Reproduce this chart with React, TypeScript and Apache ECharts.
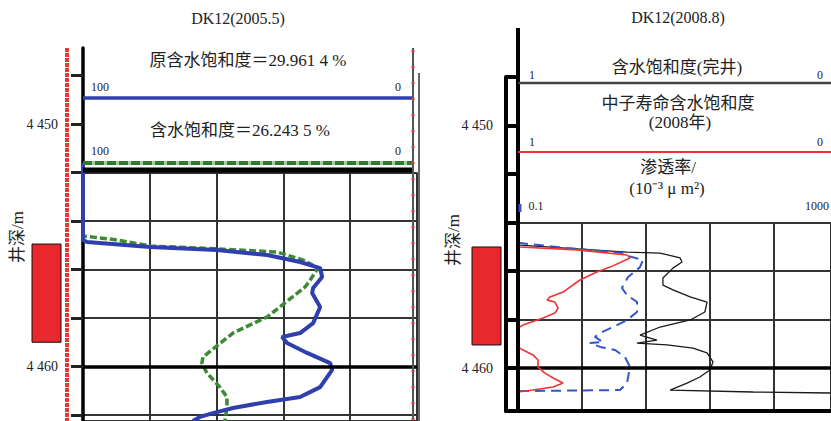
import React, { useEffect, useRef } from 'react';
import * as echarts from 'echarts';

// ---------- data ----------
const leftTitle = 'DK12(2005.5)';
const rightTitle = 'DK12(2008.8)';
const depthTicks = [4448, 4450, 4452, 4454, 4456, 4458, 4460, 4462];
const depthLabels = [4450, 4460];
const perfTop = 4454.95;
const perfBottom = 4459.0;

// left panel: water saturation (%), 100 at left, 0 at right
const leftBlueDepth = [4451.61, 4454.78, 4454.87, 4455.07, 4455.2, 4455.4, 4455.69, 4455.94, 4456.31, 4456.76, 4456.97, 4457.55, 4458.21, 4458.62, 4458.78, 4459.03, 4459.44, 4459.86, 4460.14, 4460.85, 4461.26, 4461.46, 4461.71, 4461.92, 4462.08, 4462.25];
const leftBlueSw = [100, 100, 98.8, 79.9, 59.9, 44.9, 35.0, 29.0, 28.4, 31.1, 31.4, 29.0, 31.1, 35.0, 40.4, 38.9, 32.9, 26.0, 25.4, 29.0, 35.0, 44.9, 55.1, 61.1, 65.0, 67.1];
const leftGreenDepth = [4451.61, 4454.62, 4454.78, 4455.03, 4455.15, 4455.28, 4455.61, 4455.94, 4456.43, 4456.72, 4457.96, 4458.62, 4459.61, 4459.86, 4460.27, 4460.85, 4461.26, 4461.67, 4462.25];
const leftGreenSw = [100, 100, 89.8, 79.9, 59.9, 41.9, 34.1, 29.6, 32.0, 33.5, 44.9, 55.1, 64.1, 64.4, 62.9, 59.0, 56.9, 56.9, 57.5];

// right panel: neutron-lifetime saturation (fraction), 1 at left
const redDepth = [4453.98, 4454.93, 4455.01, 4455.13, 4455.34, 4455.46, 4455.84, 4456.04, 4456.37, 4456.87, 4457.07, 4457.2, 4457.28, 4457.53, 4457.73, 4457.94, 4458.23, 4458.35, 4459.13, 4459.26, 4459.46, 4459.67, 4459.96, 4460.21, 4460.41, 4460.62, 4460.78, 4460.91, 4460.99, 4461.77];
const redSw = [1.0, 1.0, 0.994, 0.812, 0.652, 0.642, 0.706, 0.748, 0.802, 0.856, 0.898, 0.907, 0.882, 0.872, 0.882, 0.92, 0.984, 1.0, 1.0, 0.984, 0.952, 0.936, 0.936, 0.914, 0.888, 0.856, 0.888, 0.952, 1.0, 1.0];
// completion saturation (fraction), 1 at left
const blackDepth = [4454.85, 4454.93, 4455.22, 4455.26, 4455.46, 4455.63, 4455.88, 4456.29, 4456.58, 4456.78, 4457.07, 4457.28, 4457.69, 4458.02, 4458.31, 4458.64, 4458.85, 4458.97, 4459.05, 4459.18, 4459.38, 4459.75, 4460.08, 4460.37, 4460.62, 4460.91, 4460.99, 4461.03];
const blackSw = [1.0, 0.994, 0.652, 0.546, 0.482, 0.476, 0.505, 0.537, 0.537, 0.505, 0.45, 0.396, 0.403, 0.45, 0.546, 0.61, 0.556, 0.62, 0.524, 0.441, 0.396, 0.377, 0.387, 0.419, 0.46, 0.514, 0.249, 0.0];
// permeability (10^-3 um^2), log 0.1..1000
const permDepth = [4454.85, 4454.85, 4455.05, 4455.26, 4455.38, 4455.55, 4455.84, 4456.25, 4456.7, 4456.99, 4457.28, 4457.69, 4458.02, 4458.31, 4458.56, 4458.72, 4458.93, 4458.97, 4459.13, 4459.26, 4459.55, 4459.96, 4460.62, 4460.91, 4460.95];
const permK = [0.1, 0.106, 0.42, 2.2, 2.55, 3.96, 3.62, 2.55, 2.13, 2.47, 3.32, 3.32, 2.47, 1.64, 1.12, 0.96, 1.22, 0.83, 1.12, 1.74, 2.33, 2.7, 2.47, 2.01, 0.1];

const zip = (a: number[], b: number[]) => a.map((v, i) => [v, b[i]]);
const fmtDepth = (v: number) => String(v).replace(/^(\d)(\d{3})$/, '$1 $2');

const FONT = 'Liberation Serif, Noto Sans CJK SC, serif';

function txt(x: number, y: number, text: string, size: number, align = 'center', extra: any = {}) {
  return {
    type: 'text', x, y, ...extra,
    style: { text, fill: '#222', fontSize: size, fontFamily: FONT, align, textAlign: align, verticalAlign: 'middle', textVerticalAlign: 'middle' },
  };
}
function ln(x1: number, y1: number, x2: number, y2: number, stroke: string, lineWidth: number, lineDash?: number[], z = 10) {
  return { type: 'line', z, shape: { x1, y1, x2, y2 }, style: { stroke, lineWidth, lineDash } };
}

export default function App() {
  const ref = useRef<HTMLDivElement>(null);
  useEffect(() => {
    const chart = echarts.init(ref.current!, null, { renderer: 'svg' });
    const hidden = { show: false };
    const rectItem = (params: any, api: any) => {
      const p0 = api.coord([0, api.value(1)]);
      const p1 = api.coord([1, api.value(2)]);
      return { type: 'rect', shape: { x: p0[0], y: p0[1], width: p1[0] - p0[0], height: p1[1] - p0[1] }, style: { fill: '#e8282c', stroke: '#111', lineWidth: 1 } };
    };
    const grid = [
      { left: 83, top: 48, width: 334, height: 373 },      // 0 left curves / depth axis
      { left: 83, top: 172.5, width: 334, height: 248.5 }, // 1 left track grid
      { left: 32, top: 48, width: 29, height: 373 },       // 2 left perf
      { left: 506, top: 77, width: 12, height: 334 },      // 3 right ladder
      { left: 518, top: 222.5, width: 313, height: 188.5 },// 4 right track grid
      { left: 518, top: 77, width: 313, height: 334 },     // 5 right saturation
      { left: 518, top: 77, width: 313, height: 334 },     // 6 right permeability
      { left: 472, top: 77, width: 29, height: 334 },      // 7 right perf
    ];
    const gridLine = { show: true, lineStyle: { color: '#333', width: 2 } };
    const xAxis: any[] = [
      { gridIndex: 0, type: 'value', min: 0, max: 100, inverse: true, ...hidden },
      { gridIndex: 1, type: 'value', min: 0, max: 100, interval: 20, inverse: true, axisLine: hidden, axisTick: hidden, axisLabel: hidden, splitLine: gridLine },
      { gridIndex: 2, type: 'value', min: 0, max: 1, ...hidden },
      { gridIndex: 3, type: 'value', min: 0, max: 1, axisLine: { show: true, onZero: false, lineStyle: { color: '#000', width: 4 } }, axisTick: hidden, axisLabel: hidden, splitLine: hidden },
      { gridIndex: 4, type: 'value', min: 0, max: 4.89, interval: 1, axisLine: { show: true, onZero: false, lineStyle: { color: '#000', width: 4 } }, axisTick: hidden, axisLabel: hidden, splitLine: gridLine },
      { gridIndex: 5, type: 'value', min: 0, max: 1, inverse: true, ...hidden },
      { gridIndex: 6, type: 'log', logBase: 10, min: 0.1, max: 1000, ...hidden },
      { gridIndex: 7, type: 'value', min: 0, max: 1, ...hidden },
    ];
    const yAxis: any[] = [
      {
        gridIndex: 0, type: 'value', inverse: true, min: 4446.866, max: 4462.247,
        axisLine: { show: true, onZero: false, lineStyle: { color: '#000', width: 3.5 } },
        axisTick: { show: true, customValues: depthTicks, length: 12, lineStyle: { color: '#222', width: 3 } },
        axisLabel: { show: true, customValues: depthLabels, formatter: fmtDepth, margin: 25, fontSize: 14, fontFamily: FONT, color: '#222' },
        splitLine: hidden,
      },
      { gridIndex: 1, type: 'value', inverse: true, min: 4452, max: 4462.247, interval: 2, axisLine: hidden, axisTick: hidden, axisLabel: hidden, splitLine: gridLine },
      { gridIndex: 2, type: 'value', inverse: true, min: 4446.866, max: 4462.247, ...hidden },
      {
        gridIndex: 3, type: 'value', inverse: true, min: 4448, max: 4461.773, interval: 2,
        axisLine: { show: true, onZero: false, lineStyle: { color: '#000', width: 4 } },
        axisTick: hidden,
        axisLabel: { show: true, formatter: (v: number) => (depthLabels.includes(v) ? fmtDepth(v) : ''), margin: 13, fontSize: 14, fontFamily: FONT, color: '#222' },
        splitLine: { show: true, lineStyle: { color: '#000', width: 4 } },
      },
      { gridIndex: 4, type: 'value', inverse: true, min: 4454, max: 4461.773, interval: 2, axisLine: hidden, axisTick: hidden, axisLabel: hidden, splitLine: gridLine },
      { gridIndex: 5, type: 'value', inverse: true, min: 4448, max: 4461.773, ...hidden },
      { gridIndex: 6, type: 'value', inverse: true, min: 4448, max: 4461.773, ...hidden },
      { gridIndex: 7, type: 'value', inverse: true, min: 4448, max: 4461.773, ...hidden },
    ];
    const thickMark = (y: number, w: number) => ({
      symbol: 'none', silent: true, label: { show: false },
      lineStyle: { color: '#000', width: w, type: 'solid' },
      data: [{ yAxis: y }],
    });
    const series: any[] = [
      { type: 'custom', xAxisIndex: 2, yAxisIndex: 2, renderItem: rectItem, data: [[0, perfTop, perfBottom]] },
      {
        type: 'line', xAxisIndex: 0, yAxisIndex: 0, data: zip(leftGreenSw, leftGreenDepth), showSymbol: false, z: 3,
        lineStyle: { color: '#3d8a34', width: 3.5, type: [7, 3] },
        markLine: thickMark(4460, 3.5),
      },
      {
        type: 'line', xAxisIndex: 0, yAxisIndex: 0, data: zip(leftBlueSw, leftBlueDepth), showSymbol: false, z: 4,
        lineStyle: { color: '#2f3fae', width: 4 },
      },
      { type: 'custom', xAxisIndex: 7, yAxisIndex: 7, renderItem: rectItem, data: [[0, perfTop + 0.06, perfBottom + 0.05]] },
      {
        type: 'line', xAxisIndex: 5, yAxisIndex: 5, data: zip(blackSw, blackDepth), showSymbol: false, z: 3,
        lineStyle: { color: '#1a1a1a', width: 1.3 },
        markLine: thickMark(4460, 3.5),
      },
      {
        type: 'line', xAxisIndex: 6, yAxisIndex: 6, data: zip(permK, permDepth), showSymbol: false, z: 4,
        lineStyle: { color: '#3355cc', width: 2, type: [10, 6] },
      },
      {
        type: 'line', xAxisIndex: 5, yAxisIndex: 5, data: zip(redSw, redDepth), showSymbol: false, z: 5,
        lineStyle: { color: '#f03434', width: 1.6 },
      },
    ];
    const graphic: any[] = [
      // left panel header
      txt(238, 18, leftTitle, 16),
      txt(248, 60, '原含水饱和度＝29.961 4 %', 17),
      txt(91, 87, '100', 12, 'left'),
      txt(398, 87, '0', 12),
      ln(83, 98, 413, 98, '#2f3fae', 3.5),
      txt(240, 130, '含水饱和度＝26.243 5 %', 17),
      txt(91, 151, '100', 12, 'left'),
      txt(398, 151, '0', 12),
      ln(83, 163, 413, 163, '#9fd09a', 4),
      ln(83, 163, 413, 163, '#2e7a2e', 4, [9, 3]),
      ln(83, 170, 413, 170, '#000', 5),
      ln(67, 48, 67, 421, '#e53935', 4, [4, 1]),
      ln(413, 48, 413, 421, '#555', 2),
      ln(413, 50, 413, 421, '#e53935', 3, [2, 14]),
      ln(419, 73, 419, 421, '#666', 2),
      txt(17, 237, '井深/m', 17, 'center', { rotation: Math.PI / 2 }),
      // right panel header
      txt(678, 17, rightTitle, 16),
      ln(518, 28, 518, 411, '#000', 4),
      txt(677, 67, '含水饱和度(完井)', 17),
      txt(532, 75, '1', 12),
      txt(820, 75, '0', 12),
      ln(518, 83, 831, 83, '#444', 2.5),
      txt(678, 103, '中子寿命含水饱和度', 17),
      txt(680, 122, '(2008年)', 17),
      txt(532, 142, '1', 12),
      txt(820, 142, '0', 12),
      ln(518, 152, 831, 152, '#ee3333', 2),
      txt(668, 167, '渗透率/', 17),
      txt(667, 188, '(10⁻³ μ m²)', 17),
      txt(536, 206, '0.1', 12),
      txt(817, 206, '1000', 12),
      ln(520, 204, 520, 212, '#3355cc', 3),
      txt(453, 240, '井深/m', 17, 'center', { rotation: Math.PI / 2 }),
    ];
    chart.setOption({
      animation: false,
      backgroundColor: '#fff',
      grid, xAxis, yAxis, series, graphic,
    });
    return () => chart.dispose();
  }, []);
  return <div ref={ref} style={{ position: 'absolute', left: 0, top: 0, width: 831, height: 421 }} />;
}
